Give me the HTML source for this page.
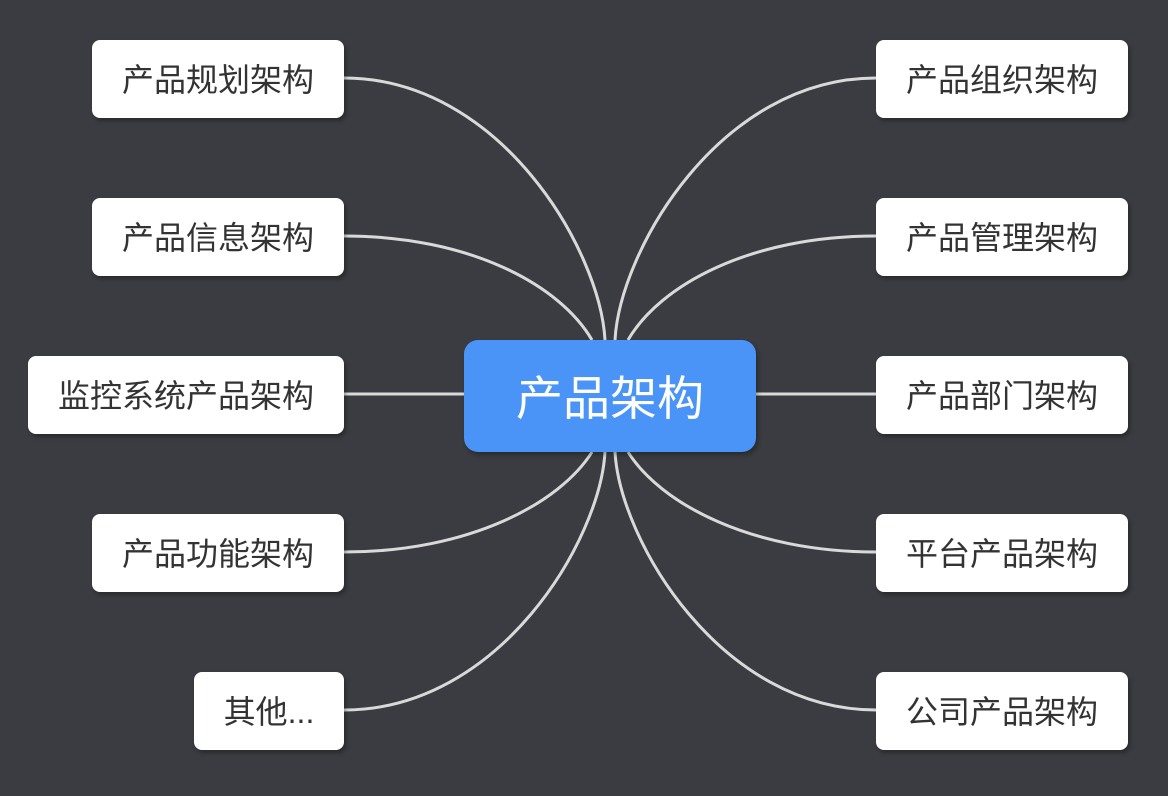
<!DOCTYPE html>
<html><head><meta charset="utf-8"><style>
html,body{margin:0;padding:0;}
body{width:1168px;height:796px;background:#3a3c41;position:relative;overflow:hidden;font-family:"Liberation Sans","Noto Sans CJK SC",sans-serif;}
.n{position:absolute;background:#fff;border-radius:8px;color:#333;font-size:32px;display:flex;align-items:center;justify-content:center;height:78px;box-sizing:border-box;padding-bottom:3px;box-shadow:2px 3px 4px rgba(0,0,0,0.3);}
.c{position:absolute;left:464px;top:340px;width:292px;height:112px;box-sizing:border-box;padding-bottom:4px;background:#4a94f8;border-radius:14px;color:#fff;font-size:47px;display:flex;align-items:center;justify-content:center;box-shadow:2px 3px 5px rgba(0,0,0,0.3);}
svg{position:absolute;left:0;top:0;}
</style></head><body>
<svg width="1168" height="796" fill="none" stroke="#d9d9d9" stroke-width="3">
<path d="M344 78 C500 78 600 250 605 340"/>
<path d="M344 236 C470 236 560 285 592 340"/>
<path d="M344 394 L464 394"/>
<path d="M344 552 C470 552 560 503 592 452"/>
<path d="M344 710 C500 710 600 540 605 452"/>
<path d="M876 78 C720 78 620 250 615 340"/>
<path d="M876 236 C750 236 660 285 628 340"/>
<path d="M756 394 L876 394"/>
<path d="M876 552 C750 552 660 503 628 452"/>
<path d="M876 710 C720 710 620 540 615 452"/>
</svg>
<div class="c">产品架构</div>
<div class="n" style="left:92px;top:40px;width:252px">产品规划架构</div>
<div class="n" style="left:92px;top:198px;width:252px">产品信息架构</div>
<div class="n" style="left:28px;top:356px;width:316px">监控系统产品架构</div>
<div class="n" style="left:92px;top:514px;width:252px">产品功能架构</div>
<div class="n" style="left:194px;top:672px;width:150px">其他...</div>
<div class="n" style="left:876px;top:40px;width:252px">产品组织架构</div>
<div class="n" style="left:876px;top:198px;width:252px">产品管理架构</div>
<div class="n" style="left:876px;top:356px;width:252px">产品部门架构</div>
<div class="n" style="left:876px;top:514px;width:252px">平台产品架构</div>
<div class="n" style="left:876px;top:672px;width:252px">公司产品架构</div>
</body></html>
